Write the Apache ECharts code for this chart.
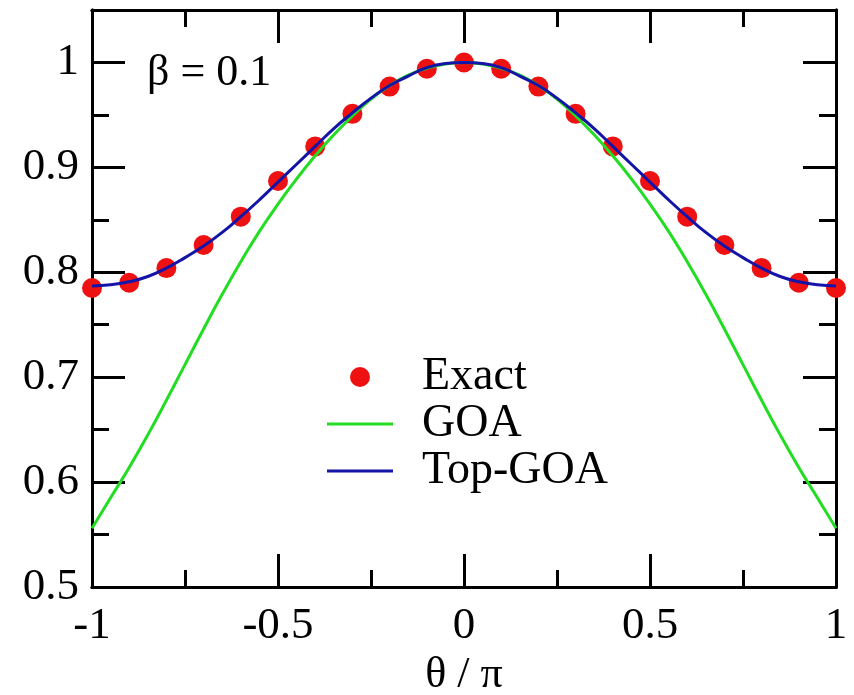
<!DOCTYPE html>
<html>
<head>
<meta charset="utf-8">
<script src="https://cdn.jsdelivr.net/npm/echarts@6/dist/echarts.min.js"></script>
<style>html,body{margin:0;padding:0;background:#fff}#c{width:854px;height:695px}</style>
</head>
<body>
<div id="c"></div>
<script>
// Exact points (theta/pi, value)
const exactX = [-1,-0.9,-0.8,-0.7,-0.6,-0.5,-0.4,-0.3,-0.2,-0.1,0,0.1,0.2,0.3,0.4,0.5,0.6,0.7,0.8,0.9,1];
const exactY = [0.785,0.790,0.804,0.826,0.853,0.887,0.920,0.951,0.977,0.994,1.000,0.994,0.977,0.951,0.920,0.887,0.853,0.826,0.804,0.790,0.785];
// Curves sampled every 0.05
const curveX = [-1,-0.95,-0.9,-0.85,-0.8,-0.75,-0.7,-0.65,-0.6,-0.55,-0.5,-0.45,-0.4,-0.35,-0.3,-0.25,-0.2,-0.15,-0.1,-0.05,0,0.05,0.1,0.15,0.2,0.25,0.3,0.35,0.4,0.45,0.5,0.55,0.6,0.65,0.7,0.75,0.8,0.85,0.9,0.95,1];
const goaY = [0.556,0.585,0.614,0.645,0.678,0.712,0.746,0.779,0.810,0.839,0.865,0.889,0.911,0.931,0.949,0.965,0.978,0.988,0.9945,0.9985,1.000,0.9985,0.9945,0.988,0.978,0.965,0.949,0.931,0.911,0.889,0.865,0.839,0.810,0.779,0.746,0.712,0.678,0.645,0.614,0.585,0.556];
const topGoaY = [0.787,0.788,0.791,0.796,0.804,0.814,0.825,0.838,0.853,0.869,0.886,0.903,0.920,0.937,0.952,0.966,0.978,0.987,0.995,0.999,1.000,0.999,0.995,0.987,0.978,0.966,0.952,0.937,0.920,0.903,0.886,0.869,0.853,0.838,0.825,0.814,0.804,0.796,0.791,0.788,0.787];
const xMajor = [-1,-0.5,0,0.5,1];
const xMinor = [-0.75,-0.25,0.25,0.75];
const yMajor = [0.5,0.6,0.7,0.8,0.9,1.0];
const yMinor = [0.55,0.65,0.75,0.85,0.95];
const seriesNames = ['Exact','GOA','Top-GOA'];
const annotation = 'β = 0.1';
const xName = 'θ / π';

const FONT = 'Liberation Serif';
const pair = (xs, ys) => xs.map((x, i) => [x, ys[i]]);
const fmt = v => (Math.abs(v - 1) < 1e-9 ? '1' : Math.abs(v) < 1e-9 ? '0' : String(+v.toFixed(2)));

function xAx(pos, vals, len, labels) {
  return {
    type: 'value', position: pos, min: -1, max: 1,
    axisLine: { show: true, onZero: false, lineStyle: { color: '#000', width: 3 } },
    axisTick: { show: true, inside: true, length: len, customValues: vals, lineStyle: { color: '#000', width: 3 } },
    axisLabel: labels ? { show: true, customValues: vals, formatter: fmt, fontFamily: FONT, fontSize: 45, color: '#000', margin: 17 } : { show: false },
    splitLine: { show: false },
    name: labels ? xName : '', nameLocation: 'middle', nameGap: 64,
    nameTextStyle: { fontFamily: FONT, fontSize: 44, color: '#000' }
  };
}
function yAx(pos, vals, len, labels) {
  return {
    type: 'value', position: pos, min: 0.5, max: 1.05,
    axisLine: { show: true, onZero: false, lineStyle: { color: '#000', width: 3 } },
    axisTick: { show: true, inside: true, length: len, customValues: vals, lineStyle: { color: '#000', width: 3 } },
    axisLabel: labels ? { show: true, customValues: vals, formatter: fmt, fontFamily: FONT, fontSize: 45, color: '#000', margin: 13 } : { show: false },
    splitLine: { show: false }
  };
}

const chart = echarts.init(document.getElementById('c'), null, { renderer: 'canvas' });
chart.setOption({
  animation: false,
  backgroundColor: '#fff',
  grid: { left: 92, right: 18, top: 10, bottom: 108, containLabel: false, outerBoundsMode: 'none' },
  xAxis: [
    xAx('bottom', xMajor, 33, true),
    xAx('bottom', xMinor, 17, false),
    xAx('top', xMajor, 33, false),
    xAx('top', xMinor, 17, false)
  ],
  yAxis: [
    yAx('left', yMajor, 33, true),
    yAx('left', yMinor, 17, false),
    yAx('right', yMajor, 33, false),
    yAx('right', yMinor, 17, false)
  ],
  legend: {
    orient: 'vertical', left: 322, top: 349,
    itemWidth: 66, itemHeight: 20, itemGap: 1,
    symbolKeepAspect: true,
    textStyle: { fontFamily: FONT, fontSize: 46, color: '#000', lineHeight: 41, padding: [0, 0, 0, 24] },
    data: [
      { name: seriesNames[0], icon: 'circle' },
      { name: seriesNames[1], icon: 'path://M0,0h66v3h-66z' },
      { name: seriesNames[2], icon: 'path://M0,0h66v3h-66z' }
    ]
  },
  graphic: [{
    type: 'text', left: 147, top: 51,
    style: { text: annotation, fontFamily: FONT, fontSize: 44, fill: '#000' }
  }],
  series: [
    { name: seriesNames[0], type: 'scatter', data: pair(exactX, exactY), symbolSize: 20, itemStyle: { color: '#ee1111', opacity: 1 }, z: 2 },
    { name: seriesNames[1], type: 'line', data: pair(curveX, goaY), smooth: true, showSymbol: false, symbol: 'none', lineStyle: { color: '#22dd22', width: 3 }, itemStyle: { color: '#22dd22' }, z: 3 },
    { name: seriesNames[2], type: 'line', data: pair(curveX, topGoaY), smooth: true, showSymbol: false, symbol: 'none', lineStyle: { color: '#1414a8', width: 3 }, itemStyle: { color: '#1414a8' }, z: 4 }
  ]
});
</script>
</body>
</html>
